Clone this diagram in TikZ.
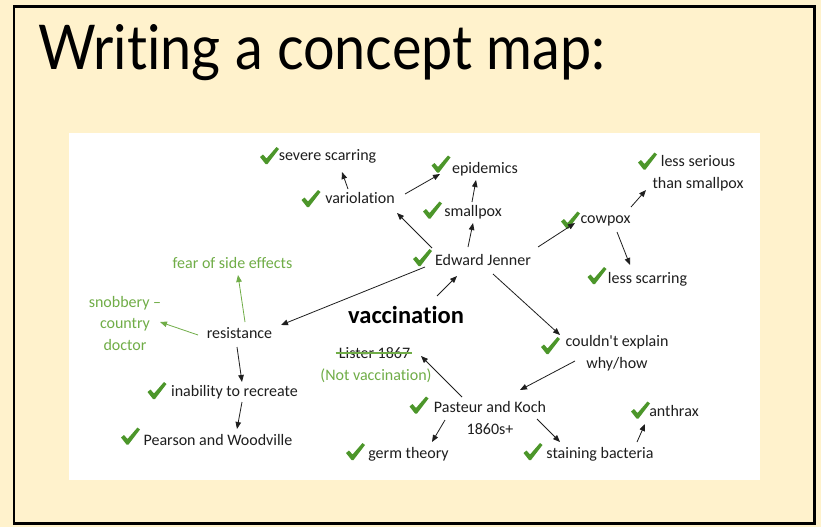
\documentclass[tikz,border=0pt]{standalone}
\usepackage{fontspec}
\setmainfont{Carlito}[Ligatures={NoCommon,TeXOff}]
\newfontfamily\titlefont{Lato}[Ligatures=NoCommon]
\usetikzlibrary{arrows.meta}
\definecolor{cream}{RGB}{255,242,204}
\definecolor{tickgreen}{RGB}{76,150,42}
\definecolor{softgreen}{RGB}{112,173,71}
\definecolor{ink}{RGB}{30,30,30}
\tikzset{
  lbl/.style={inner sep=0pt, text=ink, font=\fontsize{16}{21.5}\selectfont, text height=13.5pt, text depth=2.5pt},
  mlbl/.style={inner sep=0pt, text=ink, font=\fontsize{16}{21.5}\selectfont, align=center},
  glbl/.style={lbl, text=softgreen},
  gmlbl/.style={mlbl, text=softgreen},
  conn/.style={draw=ink, line width=0.8pt, -{Triangle[length=7pt,width=5.5pt]}},
  gconn/.style={conn, draw=softgreen, -{Triangle[length=7pt,width=5.5pt,fill=softgreen]}},
  tick/.pic={\fill[tickgreen] (-9.5,1.5) -- (-6.5,-1) -- (-3,3) -- (7,-8.5) -- (9.5,-6.5) -- (-2,8.5) -- (-4,8.5) -- cycle;}
}
\begin{document}
\begin{tikzpicture}[x=1pt,y=-1pt]
\useasboundingbox (0,0) rectangle (821,527);
\fill[cream] (0,0) rectangle (821,527);
\draw[line width=2.5pt, black] (14,6.5) rectangle (814.5,523.5);
\fill[white] (69,133) rectangle (760,480);

\node[anchor=base west, inner sep=0pt] (title) at (38,70) {\resizebox{567pt}{45pt}{\titlefont Writing a concept map:}};

% nodes
\node[lbl] (ss) at (327.5,155) {severe scarring};
\node[lbl] (var) at (360,198) {variolation};
\node[lbl] (epi) at (485,168) {epidemics};
\node[lbl] (sp) at (473,211) {smallpox};
\node[lbl] (ej) at (483,260) {Edward Jenner};
\node[lbl] (cp) at (605.5,218) {cowpox};
\node[mlbl] (ls) at (698,173) {less serious\\than smallpox};
\node[lbl] (lsc) at (647.5,278) {less scarring};
\node[glbl] (fear) at (232.5,263) {fear of side effects};
\node[gmlbl] (snob) at (125,323) {snobbery –\\country\\doctor};
\node[lbl] (res) at (239.5,333) {resistance};
\node[inner sep=0pt, text=black, font=\bfseries\fontsize{24.5}{28}\selectfont] (vac) at (406,315) {vaccination};
\node[mlbl] (ce) at (617,353) {couldn't explain\\why/how};
\node[lbl] (lister) at (374.5,353) {Lister 1867};
\node[glbl] (notvac) at (376,375) {(Not vaccination)};
\node[mlbl] (pk) at (490,418) {Pasteur and Koch\\1860s+};
\node[lbl] (inab) at (234.5,391) {inability to recreate};
\node[lbl] (pw) at (218,440) {Pearson and Woodville};
\node[lbl] (germ) at (408.5,453) {germ theory};
\node[lbl] (stain) at (600,453) {staining bacteria};
\node[lbl] (anth) at (674,411) {anthrax};

% strike-through
\draw[softgreen, line width=2.2pt] ([shift={(-3,0)}]lister.west) -- ([shift={(2,0)}]lister.east);

% ticks
\pic at (269.5,155.5) {tick};
\pic at (311,198.5) {tick};
\pic at (422.5,257.5) {tick};
\pic at (441,164) {tick};
\pic at (432.5,210) {tick};
\pic at (647.5,161) {tick};
\pic at (570.5,220) {tick};
\pic at (597,275.5) {tick};
\pic at (157,390.5) {tick};
\pic at (130.5,436) {tick};
\pic at (355.5,451.5) {tick};
\pic at (550.5,345.5) {tick};
\pic at (419,405) {tick};
\pic at (533,451.5) {tick};
\pic at (640.5,410) {tick};

% connectors
\draw[conn] ([shift={(-12,-9)}]var.center) -- ([shift={(14.5,17)}]ss.center);
\draw[conn] ([shift={(45,-4)}]var.center) -- ([shift={(-45,6)}]epi.center);
\draw[conn] ([shift={(-51,-12)}]ej.center) -- ([shift={(37,15)}]var.center);
\draw[conn] ([shift={(-15,-13)}]ej.center) -- ([shift={(0,12)}]sp.center);
\draw[conn] ([shift={(-1,-9)}]sp.center) -- ([shift={(-9,12)}]epi.center);
\draw[conn] ([shift={(55,-13)}]ej.center) -- ([shift={(-30.5,5)}]cp.center);
\draw[conn] ([shift={(25.5,-11)}]cp.center) -- ([shift={(-52,17)}]ls.center);
\draw[conn] ([shift={(11.5,14)}]cp.center) -- ([shift={(-17.5,-13)}]lsc.center);
\draw[conn] ([shift={(-58,7)}]ej.center) -- ([shift={(41.5,-8)}]res.center);
\draw[conn] ([shift={(31,-19)}]vac.center) -- ([shift={(-26,16)}]ej.center);
\draw[conn] ([shift={(10,14)}]ej.center) -- ([shift={(-57,-18)}]ce.center);
\draw[conn] ([shift={(-42,8)}]ce.center) -- ([shift={(30,-28)}]pk.center);
\draw[conn] ([shift={(-28,-21)}]pk.center) -- ([shift={(46.5,3)}]lister.center);
\draw[conn] ([shift={(-45,2)}]pk.center) -- ([shift={(23.5,-11)}]germ.center);
\draw[conn] ([shift={(47,1)}]pk.center) -- ([shift={(-40,-11)}]stain.center);
\draw[conn] ([shift={(37,-11)}]stain.center) -- ([shift={(-29,13)}]anth.center);
\draw[gconn] ([shift={(5.5,-11)}]res.center) -- ([shift={(5.5,12)}]fear.center);
\draw[gconn] ([shift={(-41.5,2)}]res.center) -- ([shift={(35,-1)}]snob.center);
\draw[conn] ([shift={(-2.5,14)}]res.center) -- ([shift={(7.5,-9)}]inab.center);
\draw[conn] ([shift={(7.5,11)}]inab.center) -- ([shift={(19,-11)}]pw.center);
\end{tikzpicture}
\end{document}
